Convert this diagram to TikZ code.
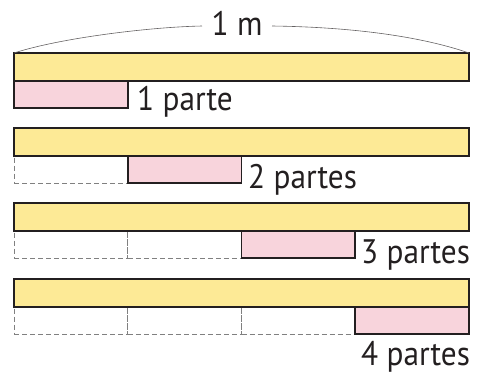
\documentclass[tikz,border=0pt]{standalone}
\usepackage{fontspec}
\setmainfont{PT Sans}[FakeStretch=0.92]
\definecolor{ink}{HTML}{231F20}
\definecolor{barY}{HTML}{FDEA96}
\definecolor{partP}{HTML}{F8D4DC}
\definecolor{dashG}{HTML}{808080}
\begin{document}
\begin{tikzpicture}[x=1pt,y=-1pt,
  bar/.style={draw=ink, fill=barY, line width=1.6pt, minimum width=455pt, minimum height=28pt, inner sep=0pt, outer sep=0pt, anchor=north west},
  part/.style={draw=ink, fill=partP, line width=1.6pt, minimum width=113.75pt, minimum height=27pt, inner sep=0pt, outer sep=0pt, anchor=north west},
  ghost/.style={draw=dashG, dash pattern=on 5pt off 3pt, line width=0.8pt, minimum width=113.75pt, minimum height=27pt, inner sep=0pt, outer sep=0pt, anchor=north west},
  lbl/.style={font=\fontsize{34}{40}\selectfont, text=ink, inner sep=0pt, anchor=base west},
  arc/.style={draw=ink!70, line width=0.6pt}]
\useasboundingbox (0,0) rectangle (487,373);
% row 1
\node[bar] (b1) at (14,53) {};
\node[part] (p1) at (14,81) {};
\node[lbl] (t1) at (137,110) {1 parte};
% row 2
\node[ghost] (g21) at (14,156) {};
\node[bar] (b2) at (14,128) {};
\node[part] (p2) at (127.75,156) {};
\node[lbl] (t2) at (248,188) {2 partes};
% row 3
\node[ghost] (g31) at (14,231) {};
\node[ghost] (g32) at (127.75,231) {};
\node[bar] (b3) at (14,203) {};
\node[part] (p3) at (241.5,231) {};
\node[lbl] (t3) at (361,263) {3 partes};
% row 4
\node[ghost] (g41) at (14,307) {};
\node[ghost] (g42) at (127.75,307) {};
\node[ghost] (g43) at (241.5,307) {};
\node[bar] (b4) at (14,279) {};
\node[part] (p4) at (355.25,307) {};
\node[lbl] (t4) at (361,365) {4 partes};
% 1 m brace
\node[lbl, anchor=base] (m) at (237,35) {1 m};
\coordinate (mL) at (202,26);
\coordinate (mR) at (272,26);
\draw[arc] (b1.north west) .. controls (60,38) and (150,27) .. (mL);
\draw[arc] (mR) .. controls (350,27) and (420,36) .. (b1.north east);
\end{tikzpicture}
\end{document}
